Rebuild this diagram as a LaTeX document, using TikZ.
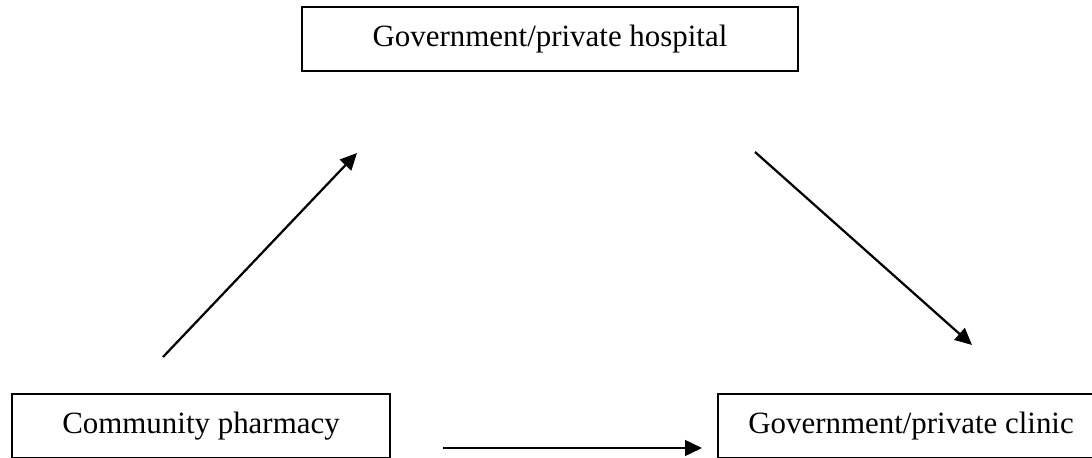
\documentclass[tikz,border=0pt]{standalone}
\usepackage{fontspec}
\setmainfont{Liberation Serif}
\usepackage{tikz}
\usetikzlibrary{arrows.meta}

\begin{document}
\begin{tikzpicture}[
  box/.style={draw, line width=1.1pt, minimum height=1.6cm, inner sep=0pt,
    font=\fontsize{22}{26}\selectfont},
  flow/.style={line width=1.6pt, -{Triangle[length=4.2mm,width=3.9mm]}}]
\useasboundingbox (0,0) rectangle (27.3,11.425);
\clip (0,0) rectangle (27.3,11.425);

%top
\node[box, minimum width=12.4cm] (hospital) at (13.75,10.45) {Government/private hospital};
%bottom left
\node[box, minimum width=9.45cm] (pharmacy) at (5.025,0.775) {Community pharmacy};
%bottom right
\node[box, minimum width=9.65cm] (clinic) at (22.775,0.775) {Government/private clinic};

%arrows
\coordinate (p1) at (4.075,2.5);
\coordinate (h1) at (8.925,7.6);
\coordinate (h2) at (18.875,7.625);
\coordinate (c1) at (24.3,2.8);
\coordinate (p2) at (11.075,0.225);
\coordinate (c2) at (17.55,0.225);
\draw[flow] (p1) -- (h1);
\draw[flow] (h2) -- (c1);
\draw[flow] (p2) -- (c2);
\end{tikzpicture}
\end{document}
